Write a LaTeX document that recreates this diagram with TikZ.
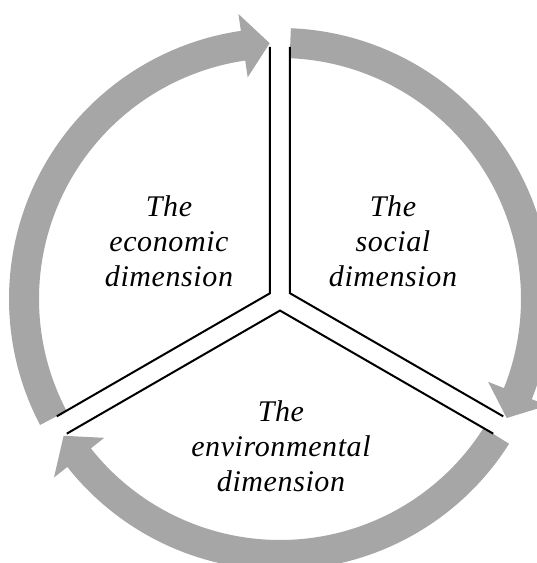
\documentclass[tikz,border=0pt]{standalone}
\usepackage{fontspec}
\setmainfont{Liberation Serif}
\newfontfamily\dimfont{Liberation Serif}[LetterSpace=2]
\usetikzlibrary{calc}
\definecolor{ringgray}{RGB}{166,166,166}

\begin{document}
\begin{tikzpicture}[x=1pt,y=1pt,
  band/.style={fill=ringgray, draw=none},
  divider/.style={line width=2pt, black},
  dimtext/.style={align=center, inner sep=0pt,
    font=\dimfont\itshape\fontsize{30}{35}\selectfont}]

  \useasboundingbox (-280,-264) rectangle (257,299);

  % --- Ring arrows (clockwise) ---
  \fill[band] (207.7:241) arc[start angle=207.7, end angle=98.3, radius=241pt]
    -- (98.3:224) -- (92.3:256) -- (98.3:288) -- (98.3:271)
    arc[start angle=98.3, end angle=207.7, radius=271pt] -- cycle;
  \fill[band] (87.7:241) arc[start angle=87.7, end angle=-21.7, radius=241pt]
    -- (-21.7:224) -- (-27.7:256) -- (-21.7:288) -- (-21.7:271)
    arc[start angle=-21.7, end angle=87.7, radius=271pt] -- cycle;
  \fill[band] (-32.3:241) arc[start angle=-32.3, end angle=-141.7, radius=241pt]
    -- (-141.7:224) -- (-147.7:256) -- (-141.7:288) -- (-141.7:271)
    arc[start angle=-141.7, end angle=-32.3, radius=271pt] -- cycle;

  % --- Junction points ---
  \coordinate (J1) at (-10,5.77);
  \coordinate (J2) at (10,5.77);
  \coordinate (J3) at (0,-11.55);

  % --- Outer ends ---
  \coordinate (T1) at ($(90:252)+(180:10)$);
  \coordinate (T2) at ($(90:252)+(0:10)$);
  \coordinate (L1) at ($(210:252)+(120:10)$);
  \coordinate (L2) at ($(210:252)+(300:10)$);
  \coordinate (R1) at ($(330:252)+(60:10)$);
  \coordinate (R2) at ($(330:252)+(240:10)$);

  % --- Dividers ---
  \draw[divider] (T1) -- (J1) -- (L1);
  \draw[divider] (T2) -- (J2) -- (R1);
  \draw[divider] (L2) -- (J3) -- (R2);

  % --- Labels ---
  \node[dimtext] (eco) at (-111,57.5) {The\\economic\\dimension};
  \node[dimtext] (soc) at (113,57.5) {The\\social\\dimension};
  \node[dimtext] (env) at (1,-147) {The\\environmental\\dimension};

\end{tikzpicture}
\end{document}
